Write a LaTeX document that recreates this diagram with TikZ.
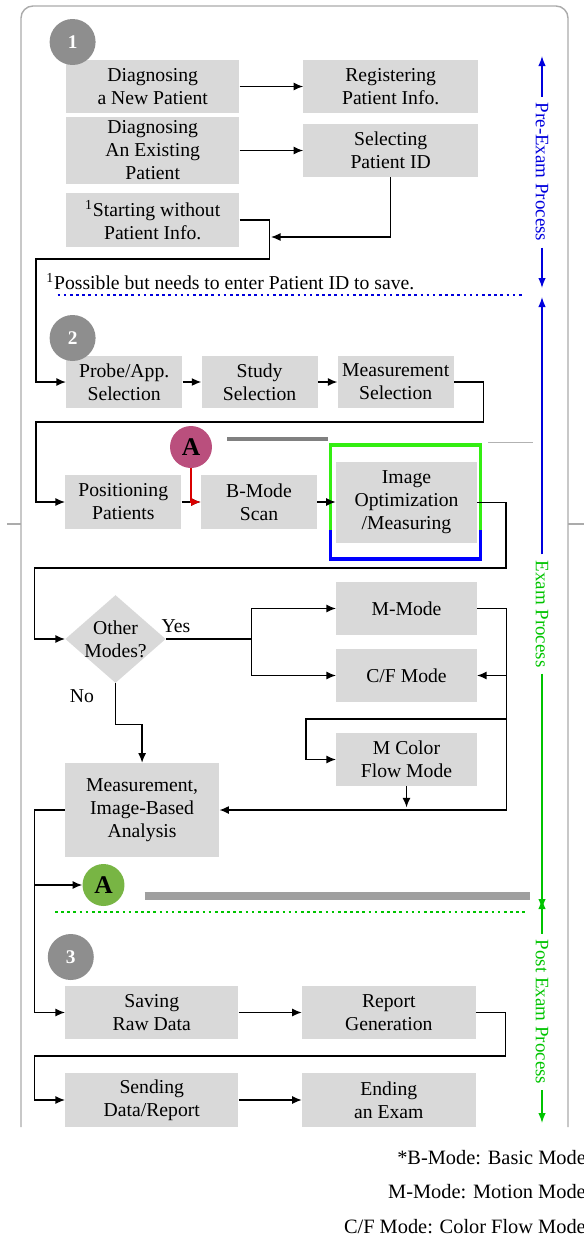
\documentclass[tikz,border=0pt]{standalone}
\usepackage{fontspec}
\setmainfont{Liberation Serif}
\usetikzlibrary{arrows.meta,shapes.geometric}

\definecolor{boxgray}{HTML}{D9D9D9}
\definecolor{stepgray}{HTML}{8E8E8E}
\definecolor{framegray}{HTML}{ABABAB}
\definecolor{magentaA}{HTML}{BA4F7D}
\definecolor{greenA}{HTML}{78B544}
\definecolor{preblue}{HTML}{0000DD}
\definecolor{exgreen}{HTML}{00C400}
\definecolor{hlgreen}{HTML}{33EE11}

\newcommand{\boxfont}{\fontsize{11.2}{13.1}\selectfont}

\tikzset{
    box/.style={fill=boxgray, align=center, inner sep=0pt, font=\boxfont},
    stepnum/.style={circle, fill=stepgray, text=white, minimum size=0.92cm, inner sep=0pt, font=\fontsize{11}{11}\selectfont\bfseries},
    markA/.style={circle, minimum size=0.84cm, inner sep=0pt, font=\fontsize{14.5}{14.5}\selectfont\bfseries},
    arr/.style={-{Latex[length=1.9mm,width=1.6mm]}, line width=0.75pt},
    link/.style={line width=0.75pt},
    proc/.style={rotate=-90, font=\fontsize{10.8}{10.8}\selectfont},
    procarr/.style={-{Latex[length=2mm,width=1.5mm]}, line width=0.8pt},
}

\begin{document}
\begin{tikzpicture}[x=0.02cm, y=-0.02cm]
    \useasboundingbox (0,0) rectangle (584,1238);

    % Draw the outer frame (open at the bottom)
    \draw[framegray, line width=0.8pt, rounded corners=0.24cm] (21,1127) -- (21,6) -- (568,6) -- (568,1127);
    \draw[framegray, line width=1.2pt] (7,524) -- (21,524);
    \draw[framegray, line width=1.2pt] (568,524) -- (584,524);

    % Pre-exam boxes
    \node[box, minimum width=3.46cm, minimum height=1.06cm] (newpat) at (152.7,86.5) {Diagnosing\\a New Patient};
    \node[box, minimum width=3.49cm, minimum height=1.06cm] (regist) at (390.7,86.5) {Registering\\Patient Info.};
    \node[box, minimum width=3.46cm, minimum height=1.34cm] (exist) at (152.7,150.5) {Diagnosing\\An Existing\\Patient};
    \node[box, minimum width=3.49cm, minimum height=1.06cm] (selid) at (390.7,150.5) {Selecting\\Patient ID};
    \node[box, minimum width=3.46cm, minimum height=1.08cm] (nopat) at (152.7,220) {\textsuperscript{1}Starting without\\Patient Info.};
    \node[stepnum] (one) at (72.6,42) {1};
    \node[anchor=west, inner sep=0pt, font=\boxfont] (fnote) at (46,282) {\textsuperscript{1}Possible but needs to enter Patient ID to save.};
    \draw[preblue, dotted, line width=1.5pt] (57.7,295) -- (525,295);

    % Exam boxes
    \node[box, minimum width=2.32cm, minimum height=1.04cm] (probe) at (124.2,382) {Probe/App.\\Selection};
    \node[box, minimum width=2.32cm, minimum height=1.04cm] (study) at (259.6,382) {Study\\Selection};
    \node[box, minimum width=2.32cm, minimum height=1.04cm] (meassel) at (395.7,382) {Measurement\\Selection};
    \node[box, minimum width=2.32cm, minimum height=1.08cm] (posit) at (123.3,502) {Positioning\\Patients};
    \node[box, minimum width=2.32cm, minimum height=1.08cm] (bmode) at (259,502) {B-Mode\\Scan};
    \node[box, minimum width=2.82cm, minimum height=1.62cm] (imgopt) at (406.5,502.5) {Image\\Optimization\\/Measuring};
    \node[stepnum] (two) at (72.6,338) {2};

    % Highlight round the image optimization box
    \draw[hlgreen, line width=1.8pt] (330.7,530) -- (330.7,445) -- (480.4,445) -- (480.4,530);
    \draw[blue, line width=1.8pt] (330.7,530) -- (330.7,559) -- (480.4,559) -- (480.4,530);

    % Marker A with its bar
    \node[markA, fill=magentaA] (amark) at (191,447) {A};
    \draw[gray, line width=2.2pt] (227,439) -- (327.7,439);
    \draw[gray!60, line width=0.5pt] (488,442) -- (532.6,442);

    \node[diamond, fill=boxgray, minimum width=2.01cm, minimum height=1.76cm, inner sep=0pt] (modes) at (115.5,639) {};
    \node[align=center, inner sep=0pt, font=\boxfont] (modestxt) at (modes) {Other\\Modes?};
    \node[font=\boxfont] (yes) at (176,626) {Yes};
    \node[font=\boxfont] (no) at (82,696) {No};
    \node[box, minimum width=2.81cm, minimum height=1.06cm] (mmode) at (406.5,608.5) {M-Mode};
    \node[box, minimum width=2.81cm, minimum height=1.06cm] (cfmode) at (406.5,675.5) {C/F Mode};
    \node[box, minimum width=2.81cm, minimum height=1.06cm] (mcolor) at (406.5,759.5) {M Color\\Flow Mode};
    \node[box, minimum width=3.08cm, minimum height=1.88cm] (analysis) at (142.1,810) {Measurement,\\Image-Based\\Analysis};

    % Marker A, end of the exam
    \node[markA, fill=greenA] (agreen) at (103.5,885) {A};
    \draw[gray!75, line width=5pt] (144.5,896) -- (529.6,896);
    \draw[exgreen, dotted, line width=1.5pt] (55,912) -- (525,912);

    % Post exam boxes
    \node[stepnum] (three) at (70.8,957) {3};
    \node[box, minimum width=3.46cm, minimum height=1.06cm] (saving) at (151.8,1012.5) {Saving\\Raw Data};
    \node[box, minimum width=3.47cm, minimum height=1.06cm] (report) at (388.8,1012.5) {Report\\Generation};
    \node[box, minimum width=3.46cm, minimum height=1.08cm] (sending) at (151.8,1100) {Sending\\Data/Report};
    \node[box, minimum width=3.47cm, minimum height=1.08cm] (ending) at (388.8,1100) {Ending\\an Exam};

    % Connectors
    \draw[arr] (newpat) -- (regist);
    \draw[arr] (exist) -- (selid);
    \coordinate (nopatin) at (271,237);
    \draw[arr] (selid.south) |- (nopatin);
    \draw[arr] (nopat.east) -- ++(30,0) |- (36,259) |- (probe.west);
    \draw[arr] (probe) -- (study);
    \draw[arr] (study) -- (meassel);
    \draw[arr] (meassel.east) -- ++(29.4,0) |- (36,422) |- (posit.west);
    \draw[arr] (posit) -- (bmode);
    \draw[arr, red!85!black] (amark) |- (bmode.west);
    \draw[arr] (bmode.east) -- (bmode.east -| imgopt.west);
    \draw[arr] (imgopt.east) -- ++(28.7,0) |- (34.6,568) |- (modes.west);
    \coordinate (split) at (251.4,639);
    \draw[link] (modes.east) -- (split);
    \draw[arr] (split) |- (mmode.west);
    \draw[arr] (split) |- (cfmode.west);
    \draw[arr] (mmode.east) -- ++(29.3,0) |- (analysis.east);
    \coordinate (cfin) at (505.8,675.5);
    \draw[arr] (cfin) -- (cfmode.east);
    \coordinate (mcout) at (505.8,719);
    \draw[arr] (mcout) -- (306.1,719) |- (mcolor.west);
    \draw[arr] (mcolor.south) -- ++(0,21);
    \draw[arr] (modes.south) -- ++(0,41) -| (analysis.north);
    \draw[arr] (analysis.west) -- ++(-30.6,0) |- (saving.west);
    \coordinate (abranch) at (34.6,885);
    \draw[arr] (abranch) -- (agreen);
    \draw[arr] (saving) -- (report);
    \draw[arr] (report.east) -- ++(29.8,0) |- (34.6,1056) |- (sending.west);
    \draw[arr] (sending) -- (ending);

    % Process labels on the right
    \node[proc, text=preblue] (pre) at (542,172) {Pre-Exam Process};
    \coordinate (pretop) at (542,56);
    \coordinate (prebot) at (542,288);
    \draw[procarr, preblue] (pre.west) -- (pretop);
    \draw[procarr, preblue] (pre.east) -- (prebot);
    \node[proc, text=exgreen] (exam) at (542,614) {Exam Process};
    \coordinate (examtop) at (542,297);
    \coordinate (exambot) at (542,909);
    \draw[procarr, preblue] (exam.west) -- (examtop);
    \draw[procarr, exgreen] (exam.east) -- (exambot);
    \node[proc, text=exgreen] (post) at (542,1012) {Post Exam Process};
    \coordinate (posttop) at (542,899);
    \coordinate (postbot) at (542,1123);
    \draw[procarr, exgreen] (post.west) -- (posttop);
    \draw[procarr, exgreen] (post.east) -- (postbot);

    % Legend
    \node[anchor=east, font=\fontsize{11.6}{11.6}\selectfont] (leg1) at (592,1158) {*B-Mode: Basic Mode};
    \node[anchor=east, font=\fontsize{11.6}{11.6}\selectfont] (leg2) at (592,1192) {M-Mode: Motion Mode};
    \node[anchor=east, font=\fontsize{11.6}{11.6}\selectfont] (leg3) at (592,1227) {C/F Mode: Color Flow Mode};
\end{tikzpicture}
\end{document}
